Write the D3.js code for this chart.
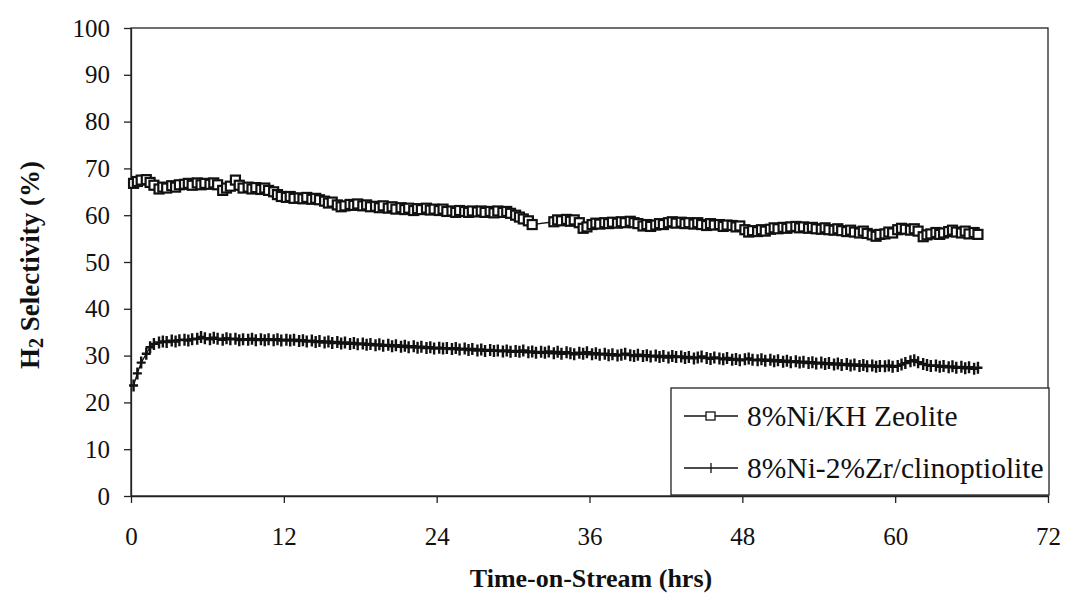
<!DOCTYPE html>
<html>
<head>
<meta charset="utf-8">
<script src="https://cdn.jsdelivr.net/npm/d3@7"></script>
<style>
  html, body { margin: 0; padding: 0; background: #fff; }
  svg { display: block; }
</style>
</head>
<body>
<svg id="chart" width="1067" height="596"></svg>
<script>
// ---- Data ----
const xTicks = [0, 12, 24, 36, 48, 60, 72];
const yTicks = [0, 10, 20, 30, 40, 50, 60, 70, 80, 90, 100];
const seriesNames = ["8%Ni/KH Zeolite", "8%Ni-2%Zr/clinoptiolite"];

// Sample times (hours)
const times = [
  0.2, 0.5, 0.8, 1.2, 1.5, 1.8, 2.2, 2.5, 2.8, 3.2, 3.5, 3.8, 4.2, 4.5, 4.8,
  5.2, 5.5, 5.8, 6.2, 6.5, 6.8, 7.2, 7.5, 7.8, 8.2, 8.5, 8.8, 9.2, 9.5, 9.8,
  10.2, 10.5, 10.8, 11.2, 11.5, 11.8, 12.2, 12.5, 12.8, 13.2, 13.5, 13.8, 14.2, 14.5, 14.8,
  15.2, 15.5, 15.8, 16.2, 16.5, 16.8, 17.2, 17.5, 17.8, 18.2, 18.5, 18.8, 19.2, 19.5, 19.8,
  20.2, 20.5, 20.8, 21.2, 21.5, 21.8, 22.2, 22.5, 22.8, 23.2, 23.5, 23.8, 24.2, 24.5, 24.8,
  25.2, 25.5, 25.8, 26.2, 26.5, 26.8, 27.2, 27.5, 27.8, 28.2, 28.5, 28.8, 29.2, 29.5, 29.8,
  30.2, 30.5, 30.8, 31.2, 31.5, 31.8, 32.2, 32.5, 32.8, 33.2, 33.5, 33.8, 34.2, 34.5, 34.8,
  35.2, 35.5, 35.8, 36.2, 36.5, 36.8, 37.2, 37.5, 37.8, 38.2, 38.5, 38.8, 39.2, 39.5, 39.8,
  40.2, 40.5, 40.8, 41.2, 41.5, 41.8, 42.2, 42.5, 42.8, 43.2, 43.5, 43.8, 44.2, 44.5, 44.8,
  45.2, 45.5, 45.8, 46.2, 46.5, 46.8, 47.2, 47.5, 47.8, 48.2, 48.5, 48.8, 49.2, 49.5, 49.8,
  50.2, 50.5, 50.8, 51.2, 51.5, 51.8, 52.2, 52.5, 52.8, 53.2, 53.5, 53.8, 54.2, 54.5, 54.8,
  55.2, 55.5, 55.8, 56.2, 56.5, 56.8, 57.2, 57.5, 57.8, 58.2, 58.5, 58.8, 59.2, 59.5, 59.8,
  60.2, 60.5, 60.8, 61.2, 61.5, 61.8, 62.2, 62.5, 62.8, 63.2, 63.5, 63.8, 64.2, 64.5, 64.8,
  65.2, 65.5, 65.8, 66.2, 66.5
];

// 8%Ni/KH Zeolite (null = no measurement)
const zeolite = [
  66.8, 67.2, 67.5, 67.6, 67.0, 66.4, 65.6, 66.0, 65.8, 66.3, 66.0, 66.5, 66.6, 66.8, 66.4,
  66.9, 66.5, 66.8, 66.6, 66.9, 66.5, 65.3, 65.8, 66.2, 67.5, 66.4, 65.8, 66.0, 65.6, 65.9,
  65.5, 65.8, 65.3, 65.0, 64.4, 64.0, 63.8, 64.0, 63.6, 63.7, 63.5, 63.8, 63.4, 63.6, 63.3,
  63.0, 62.6, 62.8, 62.2, 61.8, 62.0, 62.3, 62.1, 62.4, 62.0, 62.2, 61.8, 61.9, 61.6, 62.0,
  61.5, 61.8, 61.3, 61.6, 61.2, 61.5, 61.0, 61.4, 61.2, 61.5, 61.1, 61.3, 61.0, 61.3, 60.8,
  60.9, 60.6, 61.0, 60.8, 60.6, 60.9, 60.7, 60.9, 60.6, 60.8, 60.5, 60.9, 60.6, 60.8, 60.4,
  60.0, 59.6, 59.2, 58.8, 58.0, null, null, null, null, 58.6, 59.0, 58.8, 59.1, 58.7, 59.0,
  58.4, 57.2, 57.5, 58.0, 58.3, 58.1, 58.4, 58.2, 58.5, 58.3, 58.6, 58.4, 58.7, 58.4, 58.2,
  57.7, 58.0, 57.6, 57.9, 58.2, 58.0, 58.4, 58.6, 58.3, 58.5, 58.2, 58.4, 58.1, 58.4, 58.0,
  57.8, 58.2, 57.9, 58.0, 57.6, 57.9, 57.8, 57.5, 57.7, 56.9, 56.4, 56.7, 56.5, 56.9, 56.6,
  57.0, 57.3, 57.1, 57.4, 57.2, 57.5, 57.6, 57.3, 57.5, 57.2, 57.4, 57.1, 57.0, 57.3, 56.9,
  56.8, 57.1, 56.7, 56.5, 56.8, 56.4, 56.2, 56.6, 56.1, 55.8, 55.5, 55.9, 56.0, 56.4, 56.2,
  56.9, 57.2, 57.0, 56.8, 57.1, 56.6, 55.4, 55.8, 56.0, 56.3, 55.9, 56.2, 56.5, 56.8, 56.4,
  56.2, 56.6, 56.0, 56.3, 55.9
];

// 8%Ni-2%Zr/clinoptiolite
const clino = [
  23.6, 26.2, 28.5, 30.4, 31.8, 32.5, 32.8, 33.0, 32.9, 33.2, 33.0, 33.3, 33.4, 33.2, 33.5,
  33.6, 34.0, 33.7, 33.5, 33.8, 33.6, 33.4, 33.7, 33.5, 33.6, 33.3, 33.5, 33.4, 33.6, 33.3,
  33.5, 33.3, 33.5, 33.3, 33.5, 33.2, 33.4, 33.2, 33.4, 33.1, 33.3, 33.0, 33.2, 32.9, 33.1,
  32.8, 33.0, 32.7, 32.9, 32.6, 32.8, 32.5, 32.7, 32.4, 32.6, 32.3, 32.5, 32.2, 32.4, 32.1,
  32.3, 32.0, 32.2, 31.9, 32.1, 31.8, 32.0, 31.7, 31.9, 31.6, 31.8, 31.5, 31.7, 31.5, 31.6,
  31.4, 31.6, 31.3, 31.5, 31.2, 31.4, 31.1, 31.3, 31.0, 31.2, 31.0, 31.1, 30.9, 31.1, 30.8,
  31.0, 30.8, 31.1, 30.7, 30.9, 30.6, 30.8, 30.6, 30.9, 30.5, 30.8, 30.4, 30.7, 30.5, 30.3,
  30.6, 30.4, 30.7, 30.3, 30.5, 30.2, 30.4, 30.1, 30.3, 30.0, 30.2, 30.4, 30.1, 29.9, 30.2,
  29.9, 30.1, 29.8, 30.0, 29.7, 29.9, 29.6, 29.9, 29.7, 29.8, 29.5, 29.7, 29.4, 29.6, 29.8,
  29.5, 29.3, 29.6, 29.4, 29.2, 29.5, 29.1, 29.3, 29.0, 29.2, 29.4, 29.1, 29.0, 29.2, 28.9,
  29.1, 28.8, 29.0, 28.7, 28.9, 28.6, 28.8, 28.5, 28.7, 28.4, 28.6, 28.3, 28.5, 28.2, 28.4,
  28.1, 28.3, 28.0, 28.2, 27.9, 28.1, 27.8, 28.0, 27.7, 27.9, 27.6, 27.8, 27.7, 27.9, 27.6,
  27.8, 28.1, 28.4, 28.8, 29.0, 28.6, 28.2, 28.0, 27.8, 27.9, 27.6, 27.8, 27.5, 27.7, 27.4,
  27.6, 27.3, 27.5, 27.2, 27.4
];

// ---- Drawing ----
const svg = d3.select("#chart");
svg.append("rect").attr("width", 1067).attr("height", 596).attr("fill", "#fff");

const x = d3.scaleLinear().domain([0, 72]).range([131, 1048]);
const y = d3.scaleLinear().domain([0, 100]).range([496, 28]);

const FONT = "Liberation Serif";

// Plot frame
svg.append("rect")
  .attr("x", x(0)).attr("y", y(100))
  .attr("width", x(72) - x(0)).attr("height", y(0) - y(100))
  .attr("fill", "none").attr("stroke", "#222").attr("stroke-width", 1.3);

// Axes
const yAxis = svg.append("g")
  .attr("transform", `translate(${x(0)},0)`)
  .call(d3.axisLeft(y).tickValues(yTicks).tickSize(7).tickSizeOuter(0).tickPadding(14));
const xAxis = svg.append("g")
  .attr("transform", `translate(0,${y(0)})`)
  .call(d3.axisBottom(x).tickValues(xTicks).tickSize(7).tickSizeOuter(0).tickPadding(24));
[xAxis, yAxis].forEach(g => {
  g.attr("font-family", null).attr("font-size", null);
  g.select(".domain").attr("stroke", "#222").attr("stroke-width", 1.3);
  g.selectAll(".tick line").attr("stroke", "#222").attr("stroke-width", 1.3);
  g.selectAll(".tick text")
    .style("font-family", FONT).style("font-size", "25px").attr("fill", "#111");
});

// Axis titles
svg.append("text")
  .attr("x", 591).attr("y", 587)
  .attr("text-anchor", "middle")
  .style("font-family", FONT).style("font-weight", "bold").style("font-size", "26px")
  .attr("fill", "#111")
  .text("Time-on-Stream (hrs)");

const yTitle = svg.append("text")
  .attr("transform", "translate(39,265) rotate(-90)")
  .attr("text-anchor", "middle")
  .style("font-family", FONT).style("font-weight", "bold").style("font-size", "27px")
  .attr("fill", "#111");
yTitle.append("tspan").text("H");
yTitle.append("tspan").style("font-size", "20px").attr("dy", 4).text("2");
yTitle.append("tspan").attr("dy", -4).text(" Selectivity (%)");

// Series data
const s1 = times.map((t, i) => ({ t, v: zeolite[i] })).filter(d => d.v !== null && d.v !== undefined);
const s2 = times.map((t, i) => ({ t, v: clino[i] })).filter(d => d.v !== null && d.v !== undefined);

const line = d3.line().x(d => x(d.t)).y(d => y(d.v));

svg.append("path").datum(s1).attr("d", line)
  .attr("fill", "none").attr("stroke", "#111").attr("stroke-width", 1.3);
svg.append("path").datum(s2).attr("d", line)
  .attr("fill", "none").attr("stroke", "#111").attr("stroke-width", 1.3);

// Square markers
svg.append("g").selectAll("rect").data(s1).join("rect")
  .attr("x", d => x(d.t) - 4.5).attr("y", d => y(d.v) - 4.5)
  .attr("width", 9).attr("height", 9)
  .attr("fill", "#fff").attr("stroke", "#111").attr("stroke-width", 2.2);

// Plus markers
const plus = svg.append("g").attr("stroke", "#111").attr("stroke-width", 2.4);
plus.selectAll("path").data(s2).join("path")
  .attr("d", d => {
    const cx = x(d.t), cy = y(d.v);
    return `M${cx - 4.5},${cy}H${cx + 4.5}M${cx},${cy - 6}V${cy + 6}`;
  });

// Legend
const lg = svg.append("g");
lg.append("rect")
  .attr("x", 671).attr("y", 388).attr("width", 378).attr("height", 107)
  .attr("fill", "#fff").attr("stroke", "#222").attr("stroke-width", 1.3);

const legendRows = [
  { name: seriesNames[0], cy: 416, marker: "square" },
  { name: seriesNames[1], cy: 468, marker: "plus" }
];
legendRows.forEach(r => {
  lg.append("line").attr("x1", 684).attr("x2", 738).attr("y1", r.cy).attr("y2", r.cy)
    .attr("stroke", "#111").attr("stroke-width", 1.3);
  if (r.marker === "square") {
    lg.append("rect").attr("x", 706).attr("y", r.cy - 4).attr("width", 9).attr("height", 8)
      .attr("fill", "#fff").attr("stroke", "#111").attr("stroke-width", 1.3);
  } else {
    lg.append("line").attr("x1", 711).attr("x2", 711).attr("y1", r.cy - 5).attr("y2", r.cy + 5)
      .attr("stroke", "#111").attr("stroke-width", 1.3);
  }
  lg.append("text").attr("x", 747).attr("y", r.cy + 10)
    .style("font-family", FONT).style("font-size", "29.5px").attr("fill", "#111")
    .text(r.name);
});
</script>
</body>
</html>
